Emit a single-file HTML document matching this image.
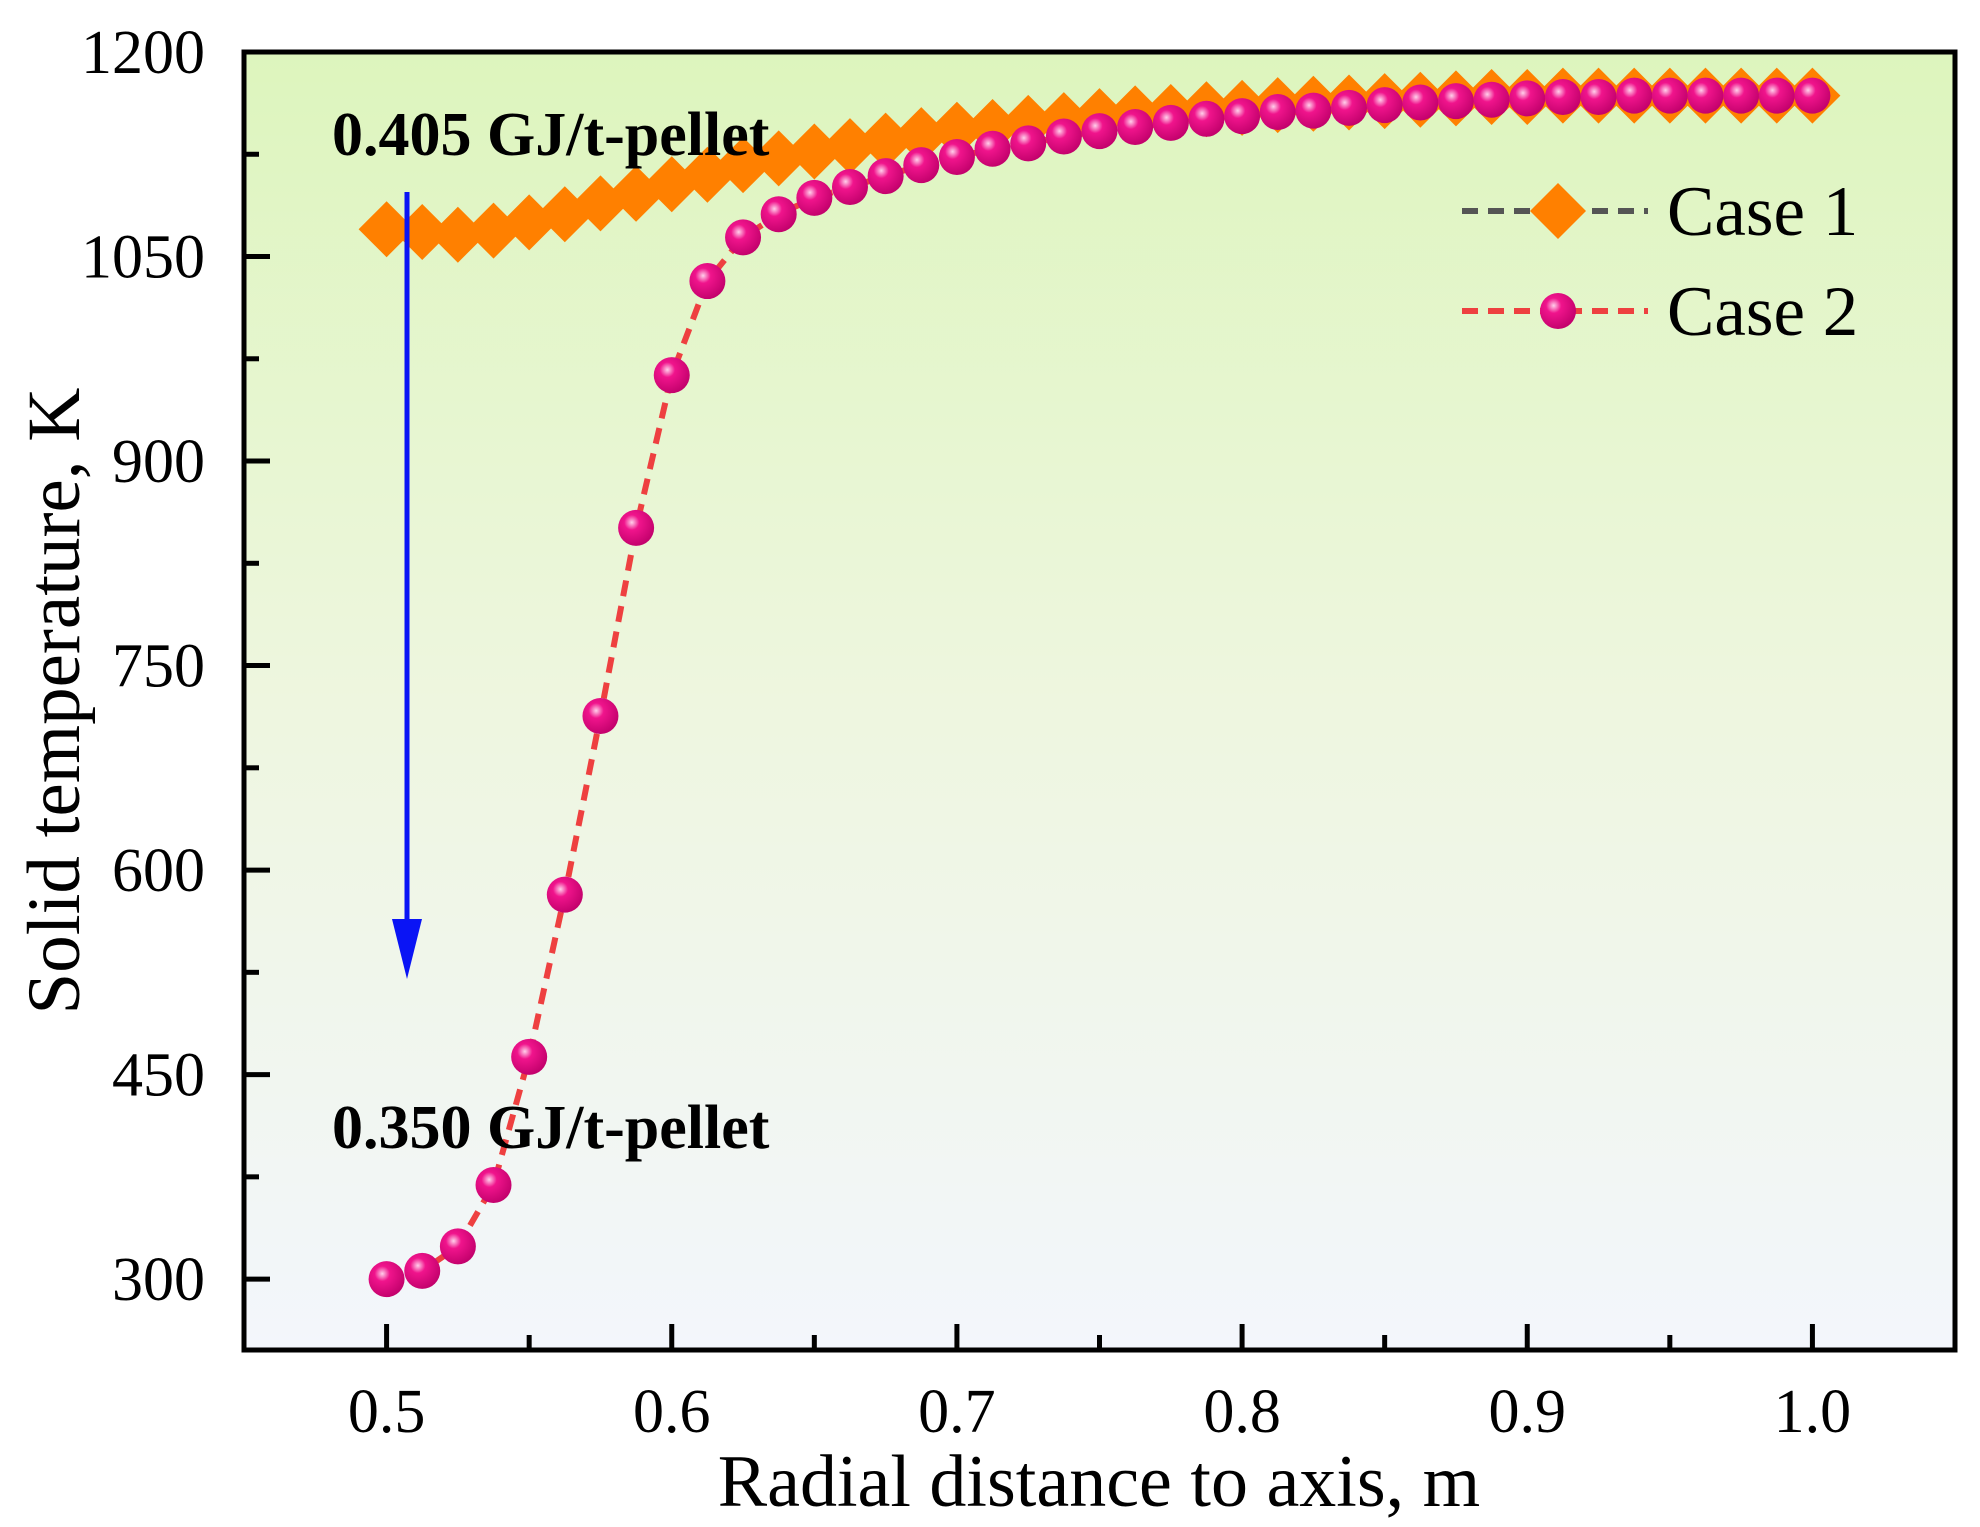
<!DOCTYPE html>
<html><head><meta charset="utf-8"><style>
body{margin:0;background:#fff}
svg{display:block;font-family:"Liberation Serif",serif}
</style></head><body>
<svg id="chart" width="1980" height="1527" viewBox="0 0 1980 1527">
<defs>
<linearGradient id="bg" x1="0" y1="0" x2="0" y2="1">
<stop offset="0" stop-color="#ddf5bd"/><stop offset="0.5" stop-color="#eef6df"/><stop offset="1" stop-color="#f3f6fc"/>
</linearGradient>
<radialGradient id="ball" cx="0.38" cy="0.35" r="0.7">
<stop offset="0" stop-color="#ffd0ea"/><stop offset="0.3" stop-color="#f0148c"/><stop offset="1" stop-color="#c0006a"/>
</radialGradient>
</defs>
<rect x="244" y="52" width="1711" height="1298" fill="url(#bg)"/>
<g id="ticks"></g>
<g id="series"></g>
<rect x="244" y="52" width="1711" height="1298" fill="none" stroke="#000" stroke-width="5"/>
<text x="1099" y="1506" font-size="74" text-anchor="middle">Radial distance to axis, m</text>
<text transform="translate(79,701) rotate(-90)" font-size="75" text-anchor="middle">Solid temperature, K</text>
<text x="332" y="155" font-size="62" font-weight="bold">0.405 GJ/t-pellet</text>
<text x="332" y="1148" font-size="62" font-weight="bold">0.350 GJ/t-pellet</text>
<g>
<line x1="407" y1="192" x2="407" y2="925" stroke="#0a14f5" stroke-width="5"/>
<polygon points="392,919 422,919 407,979" fill="#0a14f5"/>
</g>
<g>
<g>
<line x1="1462" y1="211" x2="1648" y2="211" stroke="#555" stroke-width="6" stroke-dasharray="16,10"/>
<polygon points="1558,183 1586,211 1558,239 1530,211" fill="#ff8000"/>
<text x="1667" y="235" font-size="71">Case 1</text>
</g>
<g>
<line x1="1462" y1="311" x2="1648" y2="311" stroke="#ee4040" stroke-width="6" stroke-dasharray="16,10"/>
<circle cx="1558" cy="311" r="18" fill="url(#ball)"/>
<text x="1667" y="335" font-size="71">Case 2</text>
</g>
</g>
</svg>
<script>
const xValues = [0.5,0.5125,0.525,0.5375,0.55,0.5625,0.575,0.5875,0.6,0.6125,0.625,0.6375,0.65,0.6625,0.675,0.6875,0.7,0.7125,0.725,0.7375,0.75,0.7625,0.775,0.7875,0.8,0.8125,0.825,0.8375,0.85,0.8625,0.875,0.8875,0.9,0.9125,0.925,0.9375,0.95,0.9625,0.975,0.9875,1.0];
const case1 = [1070,1068,1066,1069,1075,1081,1089,1096,1103,1110,1117,1122,1127,1131,1135,1139,1143,1145,1148,1150,1153,1155,1156,1158,1159,1161,1162,1163,1164,1165,1166,1167,1167,1168,1168,1168,1168,1168,1168,1168,1168];
const case2 = [300,306,324,369,463,582,713,851,963,1032,1064,1081,1093,1101,1109,1117,1123,1129,1133,1138,1142,1145,1148,1151,1153,1156,1157,1159,1161,1163,1164,1165,1166,1167,1167,1168,1168,1168,1168,1168,1168];
const xTicks = [0.5,0.6,0.7,0.8,0.9,1.0];
const xTickLabels = ["0.5","0.6","0.7","0.8","0.9","1.0"];
const yTicks = [300,450,600,750,900,1050,1200];
const yTickLabels = ["300","450","600","750","900","1050","1200"];

const X0=244,X1=1955,Y0=52,Y1=1350;
const xMin=0.45,xMax=1.05,yMin=248,yMax=1200;
const sx=v=>X0+(v-xMin)/(xMax-xMin)*(X1-X0);
const sy=v=>Y1-(v-yMin)/(yMax-yMin)*(Y1-Y0);
const NS="http://www.w3.org/2000/svg";
function mk(tag,attrs,parent){const e=document.createElementNS(NS,tag);for(const k in attrs)e.setAttribute(k,attrs[k]);parent.appendChild(e);return e;}
const tg=document.getElementById('ticks');
xTicks.forEach((t,i)=>{
  const l=mk('line',{x1:sx(t),x2:sx(t),y1:Y1,y2:Y1-26,stroke:'#000','stroke-width':5},tg);
  
  
  const m=mk('line',{x1:sx(t+0.05),x2:sx(t+0.05),y1:Y1,y2:Y1-15,stroke:'#000','stroke-width':5},tg);
  
  
  const tx=mk('text',{x:sx(t),y:1432,'font-size':62,'text-anchor':'middle'},tg);
  tx.textContent=xTickLabels[i];
  
  
});
yTicks.forEach((t,i)=>{
  const l=mk('line',{x1:X0,x2:X0+26,y1:sy(t),y2:sy(t),stroke:'#000','stroke-width':5},tg);
  
  
  if(t+75<yMax){
    const m=mk('line',{x1:X0,x2:X0+15,y1:sy(t+75),y2:sy(t+75),stroke:'#000','stroke-width':5},tg);
    
    
  }
  const tx=mk('text',{x:205,y:sy(t)+21,'font-size':62,'text-anchor':'end'},tg);
  tx.textContent=yTickLabels[i];
  
  
});
const sg=document.getElementById('series');
const p1=mk('polyline',{points:xValues.map((x,i)=>sx(x)+','+sy(case1[i])).join(' '),fill:'none',stroke:'#555','stroke-width':6,'stroke-dasharray':'16,10'},sg);


const p2=mk('polyline',{points:xValues.map((x,i)=>sx(x)+','+sy(case2[i])).join(' '),fill:'none',stroke:'#ee4040','stroke-width':6,'stroke-dasharray':'16,10'},sg);


xValues.forEach((x,i)=>{
  const cx=sx(x),cy=sy(case1[i]);
  const d=mk('polygon',{points:`${cx},${cy-28} ${cx+28},${cy} ${cx},${cy+28} ${cx-28},${cy}`,fill:'#ff8000'},sg);
  
  
});
xValues.forEach((x,i)=>{
  const c=mk('circle',{cx:sx(x),cy:sy(case2[i]),r:18,fill:'url(#ball)'},sg);
  
  
});
</script>
</body></html>
